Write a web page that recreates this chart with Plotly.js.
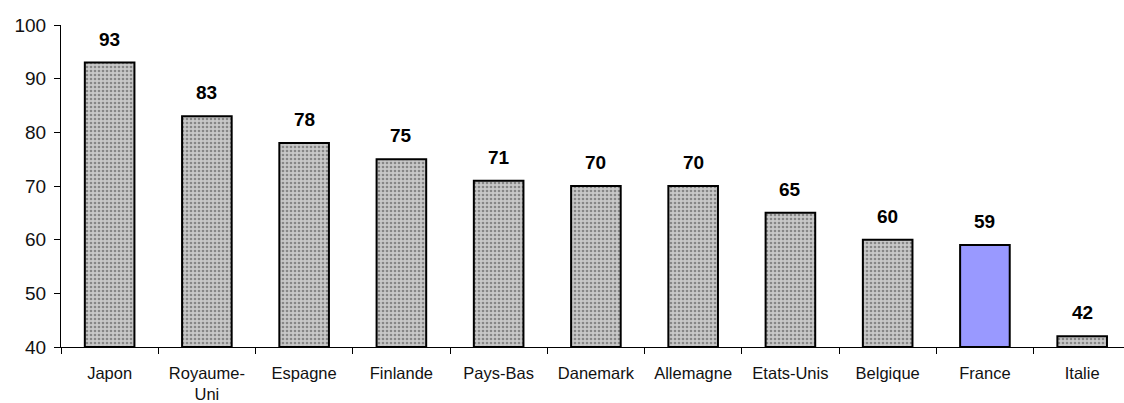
<!DOCTYPE html>
<html><head><meta charset="utf-8">
<script src="https://cdn.plot.ly/plotly-3.0.1.min.js"></script>
<style>html,body{margin:0;padding:0;background:#fff}#chart{width:1124px;height:403px}</style>
</head><body><div id="chart"></div>
<script>
const categories = ["Japon","Royaume-Uni","Espagne","Finlande","Pays-Bas","Danemark","Allemagne","Etats-Unis","Belgique","France","Italie"];
const tickLabels = ["Japon","Royaume-<br>Uni","Espagne","Finlande","Pays-Bas","Danemark","Allemagne","Etats-Unis","Belgique","France","Italie"];
const values = [93,83,78,75,71,70,70,65,60,59,42];
const highlight = "France";
const axisMin = 40;

const fills = categories.map(c => c === highlight ? "#9999ff" : "#c8c8c8");
const patterns = categories.map(c => c === highlight ? "" : ".");

const trace = {
  type: "bar", x: categories, y: values.map(v => v - axisMin), base: axisMin,
  width: 0.51,
  marker: {
    color: fills,
    line: {color: "#000", width: 2},
    pattern: {shape: patterns, fgcolor: "#ffffff", bgcolor: "#c0c0c0", size: 4, solidity: 0.35, fillmode: "overlay"}
  },
  hoverinfo: "none"
};

const annotations = categories.map((c, i) => ({
  x: c, y: values[i], xref: "x", yref: "y", yanchor: "bottom", yshift: 11,
  text: String(values[i]), showarrow: false,
  font: {family: "Liberation Sans, Arial, sans-serif", size: 19, color: "#000", weight: "bold"}
}));

const layout = {
  width: 1124, height: 403,
  margin: {l: 61, r: 0, t: 25, b: 56},
  paper_bgcolor: "#fff", plot_bgcolor: "#fff",
  showlegend: false,
  font: {family: "Liberation Sans, Arial, sans-serif", color: "#000"},
  xaxis: {
    type: "category", range: [-0.5, 10.43],
    tickmode: "array", tickvals: categories, ticktext: tickLabels,
    tickson: "boundaries", ticks: "outside", ticklen: 6, tickcolor: "#000", tickwidth: 1,
    showline: true, linecolor: "#000", linewidth: 1,
    showgrid: false, zeroline: false,
    tickfont: {size: 16.5, color: "#111"}, ticklabelstandoff: 11
  },
  yaxis: {
    range: [40, 100], tickvals: [40,50,60,70,80,90,100],
    ticks: "outside", ticklen: 6, tickcolor: "#000",
    showline: true, linecolor: "#000", linewidth: 1,
    showgrid: false, zeroline: false,
    tickfont: {size: 19, color: "#111"}, ticklabelstandoff: 4
  },
  annotations: annotations
};
Plotly.newPlot("chart", [trace], layout, {staticPlot: true, displayModeBar: false});
</script></body></html>
